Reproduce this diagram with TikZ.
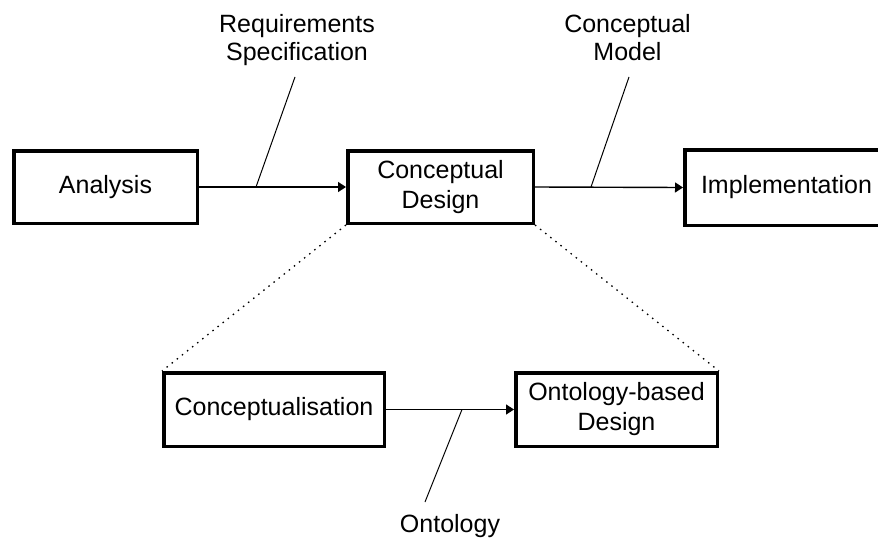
\documentclass[tikz,border=0pt]{standalone}
\usepackage{fontspec}
\setmainfont{Liberation Sans}
\usetikzlibrary{arrows.meta}
\begin{document}
\begin{tikzpicture}[x=1pt,y=-1pt,
  box/.style={draw, line width=3.5pt, inner sep=0pt, align=center,
    font=\fontsize{25}{30}\selectfont},
  tag/.style={inner sep=0pt, align=center, font=\fontsize{25}{28}\selectfont},
  flow/.style={line width=1.4pt, -{Triangle[length=8pt,width=10pt]}},
  leader/.style={line width=1pt},
  zoomline/.style={line width=1.3pt, dash pattern=on 1.5pt off 5pt}]
\useasboundingbox (0,0) rectangle (878,538);
\clip (0,0) rectangle (878,538);

% top-level process
\node[box, minimum width=183.5pt, minimum height=72.5pt] (ana) at (105.5,187) {Analysis};
\node[box, minimum width=185.5pt, minimum height=72.5pt] (cd) at (440.5,187) {Conceptual\\Design};
\node[box, minimum width=203.5pt, minimum height=75.5pt] (impl) at (786.5,187.5) {Implementation};

% refinement of the conceptual design step
\node[box, minimum width=220.5pt, minimum height=73.5pt] (conc) at (274,409.5) {Conceptualisation};
\node[box, minimum width=201.5pt, minimum height=73.5pt] (odb) at (616.5,409.5) {Ontology-based\\Design};

% artefact labels
\node[tag] (req) at (297,40) {Requirements\\Specification};
\node[tag] (cm) at (627.5,37.5) {Conceptual\\Model};
\node[tag, anchor=base] (ont) at (450,532) {Ontology};

% flows
\draw[flow] (ana.east) -- (cd.west);
\draw[flow] (cd.east) -- (impl.west);
\draw[flow] (conc.east) -- (odb.west);

% leaders from labels to flows
\coordinate (reqA) at (256,187);
\coordinate (reqB) at (295,77);
\coordinate (cmA) at (591,187);
\coordinate (cmB) at (629,77);
\coordinate (ontA) at (462,409.5);
\coordinate (ontB) at (425,502);
\draw[leader] (reqA) -- (reqB);
\draw[leader] (cmA) -- (cmB);
\draw[leader] (ontA) -- (ontB);

% zoom-in lines
\draw[zoomline] (cd.south west) -- (conc.north west);
\draw[zoomline] (cd.south east) -- (odb.north east);
\end{tikzpicture}
\end{document}
